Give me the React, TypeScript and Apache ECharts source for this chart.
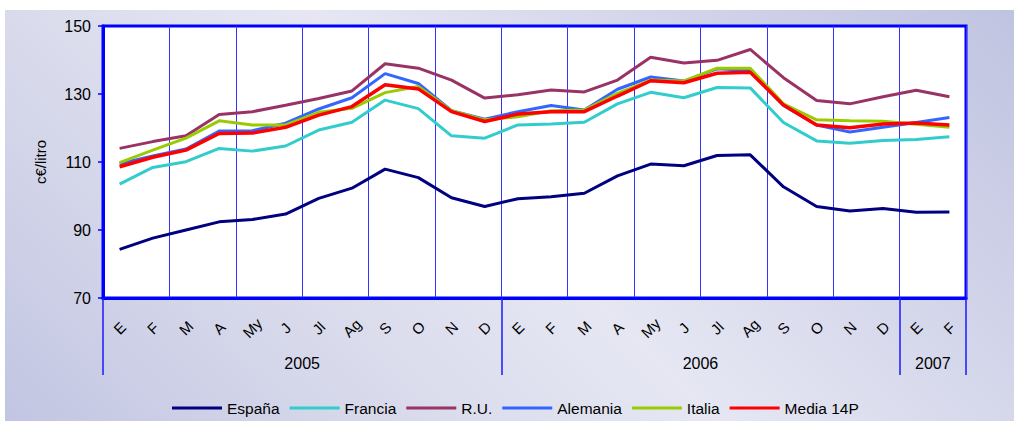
import React, { useEffect, useRef } from 'react';
import * as echarts from 'echarts';

const months = ['E', 'F', 'M', 'A', 'My', 'J', 'Jl', 'Ag', 'S', 'O', 'N', 'D', 'E', 'F', 'M', 'A', 'My', 'J', 'Jl', 'Ag', 'S', 'O', 'N', 'D', 'E', 'F'];
const years = ['2005', '2006', '2007'];
const monthsPerYear = [12, 12, 2];

const espana = [84.3, 87.6, 90.0, 92.4, 93.1, 94.7, 99.3, 102.3, 107.9, 105.4, 99.5, 96.9, 99.2, 99.8, 100.8, 105.9, 109.4, 108.9, 111.9, 112.1, 102.7, 96.9, 95.6, 96.3, 95.2, 95.3];
const francia = [103.5, 108.4, 110.1, 114.0, 113.2, 114.7, 119.4, 121.7, 128.2, 125.7, 117.7, 117.0, 120.9, 121.2, 121.7, 127.1, 130.5, 128.9, 131.9, 131.8, 121.6, 116.2, 115.5, 116.3, 116.6, 117.4];
const ru = [114.0, 116.0, 117.7, 124.0, 124.8, 126.7, 128.7, 130.9, 138.9, 137.6, 134.1, 128.8, 129.8, 131.2, 130.6, 134.1, 140.8, 139.1, 139.9, 143.1, 134.8, 128.1, 127.1, 129.2, 131.1, 129.2];
const alemania = [109.5, 111.8, 113.8, 119.1, 119.2, 121.4, 125.6, 128.9, 136.0, 133.1, 125.1, 122.6, 124.8, 126.6, 125.3, 131.4, 135.0, 133.8, 137.4, 136.9, 126.6, 120.9, 118.8, 120.2, 121.6, 123.1];
const italia = [109.8, 113.5, 117.0, 122.1, 120.9, 120.9, 124.6, 125.8, 130.4, 132.2, 125.1, 122.4, 123.3, 125.1, 125.3, 130.2, 134.1, 133.8, 137.6, 137.6, 127.1, 122.4, 122.1, 122.0, 121.1, 120.2];
const media = [108.6, 111.4, 113.5, 118.4, 118.5, 120.2, 123.8, 126.3, 132.7, 131.5, 124.8, 121.9, 124.1, 124.8, 124.8, 129.4, 133.9, 133.3, 136.1, 136.4, 126.8, 120.9, 120.1, 121.2, 121.5, 120.9];

const seriesDefs = [
  { name: 'España', data: espana, color: '#000080', width: 3 },
  { name: 'Francia', data: francia, color: '#33cccc', width: 3 },
  { name: 'R.U.', data: ru, color: '#993366', width: 3 },
  { name: 'Alemania', data: alemania, color: '#3366ff', width: 3 },
  { name: 'Italia', data: italia, color: '#99cc00', width: 3 },
  { name: 'Media 14P', data: media, color: '#ff0000', width: 3.5 },
];

const FONT = 'Arial, "Liberation Sans", sans-serif';

export default function App() {
  const ref = useRef<HTMLDivElement>(null);

  useEffect(() => {
    if (!ref.current) return;
    const chart = echarts.init(ref.current, undefined, { renderer: 'svg' });

    const bounds: number[] = [0];
    monthsPerYear.forEach((n) => bounds.push(bounds[bounds.length - 1] + n));
    const mids = years.map((_, i) => (bounds[i] + bounds[i + 1]) / 2);

    const option: any = {
      animation: false,
      textStyle: { fontFamily: FONT },
      graphic: [
        {
          type: 'rect',
          z: -100,
          silent: true,
          shape: { x: 5, y: 10, width: 1009, height: 411 },
          style: {
            fill: new echarts.graphic.LinearGradient(0, 421, 717.5, -296.5, [
              { offset: 0, color: '#c2c5e2' },
              { offset: 0.29, color: '#d9dbec' },
              { offset: 0.5, color: '#e6e7f3' },
              { offset: 0.71, color: '#d5d7eb' },
              { offset: 1, color: '#c0c3e0' },
            ], true),
          },
        },
      ],
      grid: {
        left: 103,
        top: 26,
        right: 48,
        bottom: 123,
        show: true,
        backgroundColor: '#ffffff',
        borderColor: '#0000ff',
        borderWidth: 3,
      },
      legend: {
        left: 167,
        top: 395,
        icon: 'rect',
        itemWidth: 50,
        itemHeight: 3,
        itemGap: 10,
        textStyle: { fontSize: 15.5, color: '#000', fontFamily: FONT },
        data: seriesDefs.map((s) => s.name),
      },
      xAxis: [
        {
          type: 'category',
          data: months,
          boundaryGap: true,
          position: 'bottom',
          axisLine: { show: true, lineStyle: { color: '#0000ff', width: 3 } },
          axisTick: { show: false },
          splitLine: {
            show: true,
            interval: (index: number) => index % 2 === 0,
            lineStyle: { color: '#3333ff', width: 1 },
          },
          axisLabel: {
            interval: 0,
            rotate: 45,
            fontSize: 15,
            color: '#000',
            fontFamily: FONT,
            margin: 30,
            align: 'center',
            verticalAlign: 'middle',
          },
        },
        {
          type: 'value',
          min: 0,
          max: bounds[bounds.length - 1],
          position: 'bottom',
          axisLine: { show: false },
          splitLine: { show: false },
          axisTick: {
            show: true,
            customValues: bounds,
            length: 77,
            lineStyle: { color: '#1a1aff', width: 1.5 },
          },
          axisLabel: {
            customValues: mids,
            formatter: (v: number) => {
              const i = mids.indexOf(v);
              return i >= 0 ? years[i] : '';
            },
            fontSize: 16,
            color: '#000',
            fontFamily: FONT,
            margin: 65,
            verticalAlign: 'middle',
          },
        },
      ],
      yAxis: {
        type: 'value',
        min: 70,
        max: 150,
        interval: 20,
        name: 'c€/litro',
        nameLocation: 'middle',
        nameGap: 55,
        nameTextStyle: { fontSize: 15, color: '#000', fontFamily: FONT },
        axisLine: { show: true, lineStyle: { color: '#0000ff', width: 3 } },
        axisTick: { show: true, length: 5, lineStyle: { color: '#0000ff', width: 1.5 } },
        axisLabel: { fontSize: 16, color: '#000', fontFamily: FONT, margin: 12 },
        splitLine: { show: false },
      },
      series: seriesDefs.map((s) => ({
        name: s.name,
        type: 'line',
        xAxisIndex: 0,
        data: s.data,
        symbol: 'none',
        color: s.color,
        lineStyle: { color: s.color, width: s.width },
      })),
    };

    chart.setOption(option);
    return () => chart.dispose();
  }, []);

  return (
    <div
      ref={ref}
      style={{ position: 'absolute', left: 0, top: 0, width: 1014, height: 421 }}
    />
  );
}
